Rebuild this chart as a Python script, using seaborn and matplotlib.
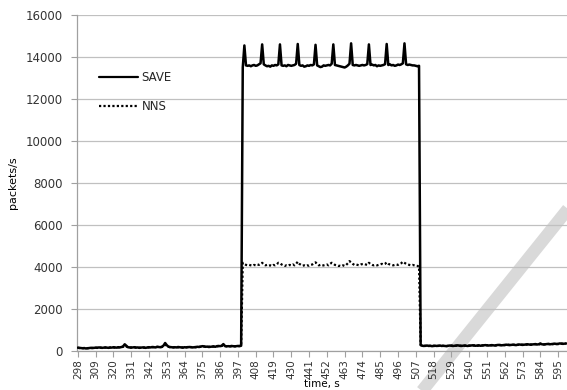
import numpy as np
import pandas as pd
import matplotlib
matplotlib.use("Agg")
import matplotlib.pyplot as plt
from matplotlib.lines import Line2D
import seaborn as sns

# ---------------- data ----------------
time_start, time_end = 298, 600
x_ticks = list(range(298, 601, 11))

save_pre = [160, 150, 140, 130, 140, 120, 130, 140, 150, 140,
            150, 160, 150, 170, 160, 150, 160, 170, 160, 150,
            170, 160, 180, 170, 160, 180, 170, 190, 220, 320,
            250, 180, 170, 160, 170, 180, 160, 170, 150, 160,
            170, 160, 150, 170, 180, 170, 190, 180, 170, 200,
            190, 180, 200, 260, 380, 280, 210, 190, 180, 170,
            180, 170, 190, 180, 170, 160, 180, 170, 180, 190,
            180, 170, 180, 190, 200, 190, 210, 230, 220, 200,
            210, 190, 200, 210, 220, 200, 230, 240, 230, 250,
            330, 240, 220, 230, 220, 240, 230, 220, 230, 240,
            240, 250]
save_high = [13500, 14550, 13600, 13580, 13600, 13560, 13600, 13620, 13580, 13600,
             13650, 13700, 14600, 13650, 13600, 13560, 13580, 13540, 13600, 13580,
             13620, 13600, 13650, 14600, 13600, 13580, 13600, 13560, 13620, 13600,
             13580, 13600, 13620, 13680, 14620, 13620, 13580, 13600, 13540, 13560,
             13600, 13580, 13620, 13600, 13650, 14580, 13600, 13560, 13520, 13540,
             13600, 13580, 13600, 13620, 13600, 13680, 14600, 13620, 13600, 13580,
             13560, 13540, 13520, 13500, 13540, 13600, 13680, 14650, 13620, 13600,
             13620, 13600, 13580, 13600, 13620, 13600, 13620, 13660, 14600, 13620,
             13640, 13600, 13620, 13560, 13600, 13580, 13600, 13620, 13660, 14620,
             13620, 13650, 13600, 13620, 13580, 13600, 13640, 13620, 13650, 13700,
             14650, 13650, 13620, 13640, 13620, 13600, 13600, 13580, 13560, 13580]
save_post = [280, 250, 240, 250, 260, 240, 250, 230, 240, 250,
             240, 250, 260, 240, 250, 240, 230, 250, 260, 250,
             240, 250, 260, 270, 250, 240, 250, 260, 250, 240,
             250, 260, 270, 260, 250, 260, 270, 250, 260, 270,
             280, 270, 260, 270, 280, 270, 260, 280, 290, 280,
             270, 280, 290, 300, 290, 280, 290, 300, 290, 280,
             300, 310, 300, 290, 300, 310, 320, 310, 300, 310,
             320, 330, 310, 320, 360, 320, 310, 320, 330, 340,
             320, 330, 340, 350, 330, 340, 360, 350, 340, 350,
             360]

nns_pre = [150, 140, 130, 140, 130, 120, 140, 130, 140, 150,
           140, 150, 160, 150, 160, 150, 150, 160, 170, 150,
           160, 170, 170, 160, 170, 170, 180, 180, 200, 260,
           220, 170, 160, 170, 160, 170, 170, 160, 160, 150,
           160, 170, 160, 160, 170, 180, 180, 190, 180, 190,
           200, 190, 190, 230, 300, 240, 200, 180, 190, 180,
           170, 180, 180, 170, 180, 170, 170, 180, 190, 180,
           190, 180, 170, 180, 190, 200, 200, 220, 210, 210,
           200, 200, 210, 200, 210, 210, 220, 230, 240, 240,
           280, 230, 230, 220, 230, 220, 230, 230, 220, 230,
           230, 240]
nns_high = [4200, 4150, 4100, 4080, 4100, 4080, 4060, 4100, 4080, 4120,
            4100, 4150, 4200, 4120, 4080, 4100, 4060, 4080, 4050, 4100,
            4080, 4120, 4200, 4180, 4120, 4080, 4050, 4080, 4060, 4100,
            4080, 4120, 4080, 4150, 4250, 4150, 4100, 4060, 4080, 4050,
            4080, 4060, 4100, 4120, 4180, 4220, 4150, 4080, 4100, 4060,
            4080, 4100, 4120, 4080, 4150, 4200, 4160, 4100, 4080, 4050,
            4060, 4040, 4080, 4050, 4100, 4180, 4280, 4220, 4150, 4100,
            4120, 4100, 4080, 4120, 4140, 4150, 4120, 4100, 4200, 4140,
            4100, 4080, 4100, 4080, 4100, 4120, 4150, 4120, 4150, 4220,
            4150, 4120, 4100, 4080, 4100, 4120, 4100, 4150, 4180, 4250,
            4200, 4150, 4120, 4100, 4080, 4100, 4080, 4060, 4050, 4020]
nns_post = [300, 240, 250, 240, 250, 250, 240, 240, 250, 240,
            250, 240, 250, 250, 240, 250, 240, 240, 250, 260,
            250, 240, 250, 260, 260, 250, 240, 250, 260, 250,
            260, 250, 260, 270, 260, 250, 260, 260, 270, 260,
            270, 280, 270, 260, 270, 280, 270, 270, 280, 290,
            280, 270, 280, 290, 300, 290, 280, 290, 300, 290,
            290, 300, 310, 300, 290, 300, 310, 320, 310, 300,
            310, 320, 320, 310, 330, 330, 320, 310, 320, 330,
            330, 320, 330, 340, 340, 330, 340, 350, 350, 340,
            350]

time = list(range(time_start, time_end + 1))
save = save_pre + save_high + save_post
nns = nns_pre + nns_high + nns_post
n = min(len(time), len(save), len(nns))
df = pd.DataFrame({"time": time[:n], "SAVE": save[:n], "NNS": nns[:n]})

# ---------------- plot ----------------
sns.set_theme(style="white")
plt.rcParams["font.family"] = ["DejaVu Sans"]

fig = plt.figure(figsize=(5.67, 3.90), dpi=100)
ax = fig.add_axes([77 / 567, 1 - 351 / 390, 1 - 77 / 567, (351 - 15) / 390])
ax.set_facecolor("none")

# watermark stripe (behind the axes)
fig.add_artist(Line2D([572 / 567, 418 / 567], [1 - 204 / 390, 1 - 396 / 390],
                      transform=fig.transFigure, color="#d9d9d9", lw=9,
                      solid_capstyle="butt", zorder=-1))

sns.lineplot(data=df, x="time", y="SAVE", ax=ax, color="black", lw=1.8,
             label="SAVE", zorder=3)
sns.lineplot(data=df, x="time", y="NNS", ax=ax, color="black", lw=1.6,
             linestyle=(0, (1, 1)), label="NNS", zorder=4)

ax.set_xlim(297.5, 600.5)
ax.set_ylim(0, 16000)
ax.set_yticks(range(0, 16001, 2000))
ax.set_xticks(x_ticks)
ax.set_xticklabels([str(v) for v in x_ticks], rotation=90, fontsize=7.5, color="#333333")
ax.tick_params(axis="y", labelsize=8.5, labelcolor="#333333")
ax.tick_params(axis="both", which="major", length=4, width=0.8, color="#a0a0a0",
               direction="out", pad=2)
ax.tick_params(axis="x", bottom=True, pad=2)
ax.tick_params(axis="y", left=True, pad=6)

ax.grid(axis="y", color="#c0c0c0", lw=0.9)
ax.grid(axis="x", visible=False)
for s in ["top", "right"]:
    ax.spines[s].set_visible(False)
for s in ["left", "bottom"]:
    ax.spines[s].set_color("#a0a0a0")
    ax.spines[s].set_linewidth(0.9)
ax.set_axisbelow(True)

ax.set_ylabel("packets/s", fontsize=8, color="black")
ax.yaxis.set_label_coords(-0.12, 0.5)
ax.set_xlabel("time, s", fontsize=7.5, color="black")
ax.xaxis.set_label_coords(0.5, -0.082)

leg = ax.legend(loc="center left", bbox_to_anchor=(0.045, 0.771), frameon=False,
                fontsize=8.5, handlelength=3.3, handletextpad=0.3,
                labelspacing=1.4, borderpad=0, borderaxespad=0)
for h in leg.get_lines():
    h.set_linewidth(1.6)

fig.savefig("out.png", dpi=100)
